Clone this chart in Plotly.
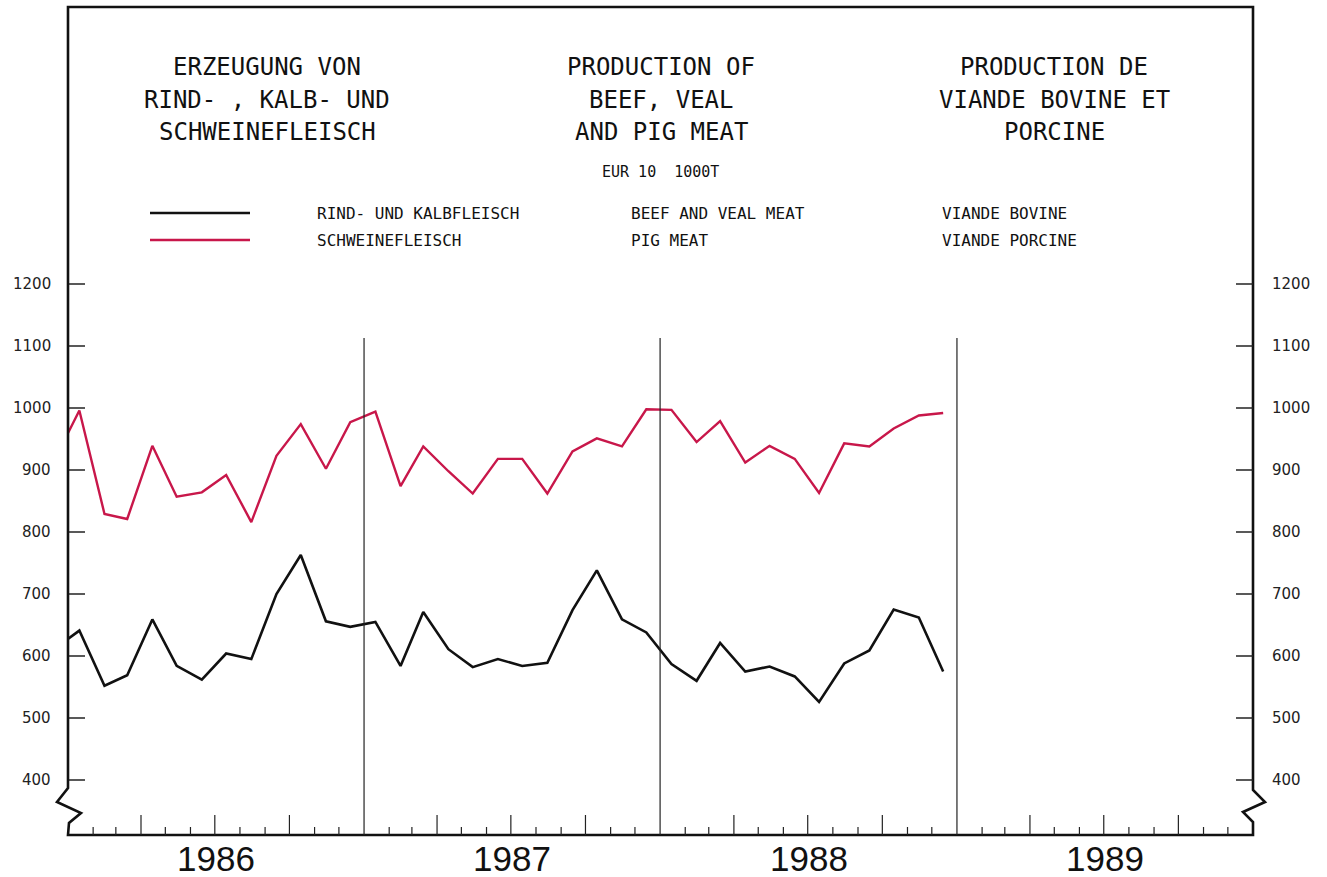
import plotly.graph_objects as go
import pandas as pd

# ---------------- data ----------------
months = pd.date_range("1985-12-01", periods=37, freq="MS") + pd.Timedelta(days=14)
beef_veal = [611,
             641, 552, 569, 659, 584, 562, 604, 595, 700, 763, 656, 647,
             655, 584, 671, 611, 582, 595, 584, 589, 674, 738, 659, 638,
             587, 560, 621, 575, 583, 567, 526, 588, 609, 675, 662, 575]
pig_meat = [915,
            996, 829, 821, 939, 857, 864, 892, 816, 923, 974, 902, 977,
            994, 874, 938, 898, 862, 918, 918, 862, 930, 951, 938, 998,
            997, 945, 979, 912, 939, 918, 863, 943, 938, 967, 988, 992]
y_ticks = [400, 500, 600, 700, 800, 900, 1000, 1100, 1200]
year_labels = ["1986", "1987", "1988", "1989"]

title_de = ["ERZEUGUNG VON", "RIND- , KALB- UND", "SCHWEINEFLEISCH"]
title_en = ["PRODUCTION OF", "BEEF, VEAL", "AND PIG MEAT"]
title_fr = ["PRODUCTION DE", "VIANDE BOVINE ET", "PORCINE"]
unit_text = "EUR 10  1000T"
legend_de = ["RIND- UND KALBFLEISCH", "SCHWEINEFLEISCH"]
legend_en = ["BEEF AND VEAL MEAT", "PIG MEAT"]
legend_fr = ["VIANDE BOVINE", "VIANDE PORCINE"]
series_colors = ["#111111", "#c8174a"]

# ---------------- geometry helpers (pixel -> paper) ----------------
W, H = 1327, 877
L, R, T, B = 68, 1253, 7, 835
PW, PH = R - L, B - T


def px(x):
    return (x - L) / PW


def py(y):
    return (B - y) / PH


fig = go.Figure()
fig.add_trace(go.Scatter(x=months, y=beef_veal, mode="lines",
                         line=dict(color=series_colors[0], width=2.6),
                         name=legend_en[0]))
fig.add_trace(go.Scatter(x=months, y=pig_meat, mode="lines",
                         line=dict(color=series_colors[1], width=2.4),
                         name=legend_en[1]))

shapes = []
ann = []

# frame with axis-break zigzags
frame = (f"M {px(68)},{py(7)} L {px(68)},{py(788)} L {px(57)},{py(802)} "
         f"L {px(81)},{py(813)} L {px(69)},{py(823)} L {px(68)},{py(835)} "
         f"L {px(1253)},{py(835)} L {px(1253)},{py(822)} L {px(1243)},{py(812)} "
         f"L {px(1265)},{py(802)} L {px(1253)},{py(790)} L {px(1253)},{py(7)} Z")
shapes.append(dict(type="path", xref="paper", yref="paper", path=frame,
                   line=dict(color="#111111", width=2.6)))

# y ticks and labels
for v in y_ticks:
    shapes.append(dict(type="line", xref="paper", yref="y", x0=px(69), x1=px(85),
                       y0=v, y1=v, line=dict(color="#222222", width=1.5)))
    shapes.append(dict(type="line", xref="paper", yref="y", x0=px(1236), x1=px(1253),
                       y0=v, y1=v, line=dict(color="#222222", width=1.5)))
    ann.append(dict(xref="paper", yref="y", x=px(53), y=v, text=str(v), showarrow=False,
                    xanchor="right", yanchor="middle",
                    font=dict(family="DejaVu Sans", size=15, color="#222222")))
    ann.append(dict(xref="paper", yref="y", x=px(1270), y=v, text=str(v), showarrow=False,
                    xanchor="left", yanchor="middle",
                    font=dict(family="DejaVu Sans", size=15, color="#222222")))

# month ticks and year separators
for d in pd.date_range("1986-02-01", "1989-12-01", freq="MS"):
    if d.month == 1:
        shapes.append(dict(type="line", xref="x", yref="paper", x0=d, x1=d,
                           y0=0, y1=py(338), line=dict(color="#222222", width=1.2)))
    else:
        top = 815 if d.month in (4, 7, 10) else 827
        shapes.append(dict(type="line", xref="x", yref="paper", x0=d, x1=d,
                           y0=0, y1=py(top), line=dict(color="#222222", width=1.2)))

# year labels
for i, lab in enumerate(year_labels):
    ann.append(dict(xref="x", yref="paper", x=pd.Timestamp(f"{lab}-07-02"), y=py(859),
                    text=lab, showarrow=False, xanchor="center", yanchor="middle",
                    font=dict(family="Liberation Sans", size=35, color="#111111")))

# titles
title_font = dict(family="DejaVu Sans Mono", size=24, color="#111111")
line_y = [67, 100, 132]
for block, cx in ((title_de, 267), (title_en, 661), (title_fr, 1054)):
    for txt, yy in zip(block, line_y):
        ann.append(dict(xref="paper", yref="paper", x=px(cx), y=py(yy), text=txt,
                        showarrow=False, xanchor="center", yanchor="middle",
                        font=title_font))

ann.append(dict(xref="paper", yref="paper", x=px(660), y=py(172), text=unit_text,
                showarrow=False, xanchor="center", yanchor="middle",
                font=dict(family="DejaVu Sans Mono", size=15, color="#111111")))

# legend
small = dict(family="DejaVu Sans Mono", size=16, color="#111111")
for k, yy in enumerate([213, 240]):
    shapes.append(dict(type="line", xref="paper", yref="paper", x0=px(150), x1=px(250),
                       y0=py(yy), y1=py(yy),
                       line=dict(color=series_colors[k], width=2.6)))
    for txt, xx in ((legend_de[k], 315), (legend_en[k], 629), (legend_fr[k], 940)):
        ann.append(dict(xref="paper", yref="paper", x=px(xx), y=py(yy), text=txt,
                        showarrow=False, xanchor="left", yanchor="middle", font=small))

ymin = 400 - (B - 780) / 0.62
ymax = 1200 + (284 - T) / 0.62

fig.update_layout(
    width=W, height=H,
    margin=dict(l=L, r=W - R, t=T, b=H - B, pad=0),
    paper_bgcolor="white", plot_bgcolor="white",
    showlegend=False,
    hovermode=False,
    xaxis=dict(range=[pd.Timestamp("1986-01-01"), pd.Timestamp("1990-01-01")],
               showgrid=False, zeroline=False, showticklabels=False, showline=False,
               ticks=""),
    yaxis=dict(range=[ymin, ymax], showgrid=False, zeroline=False,
               showticklabels=False, showline=False, ticks=""),
    shapes=shapes,
    annotations=ann,
)

fig.write_html("out.html",
               config={"displayModeBar": False, "staticPlot": True},
               post_script="document.body.style.margin='0';document.body.style.overflow='hidden';")
